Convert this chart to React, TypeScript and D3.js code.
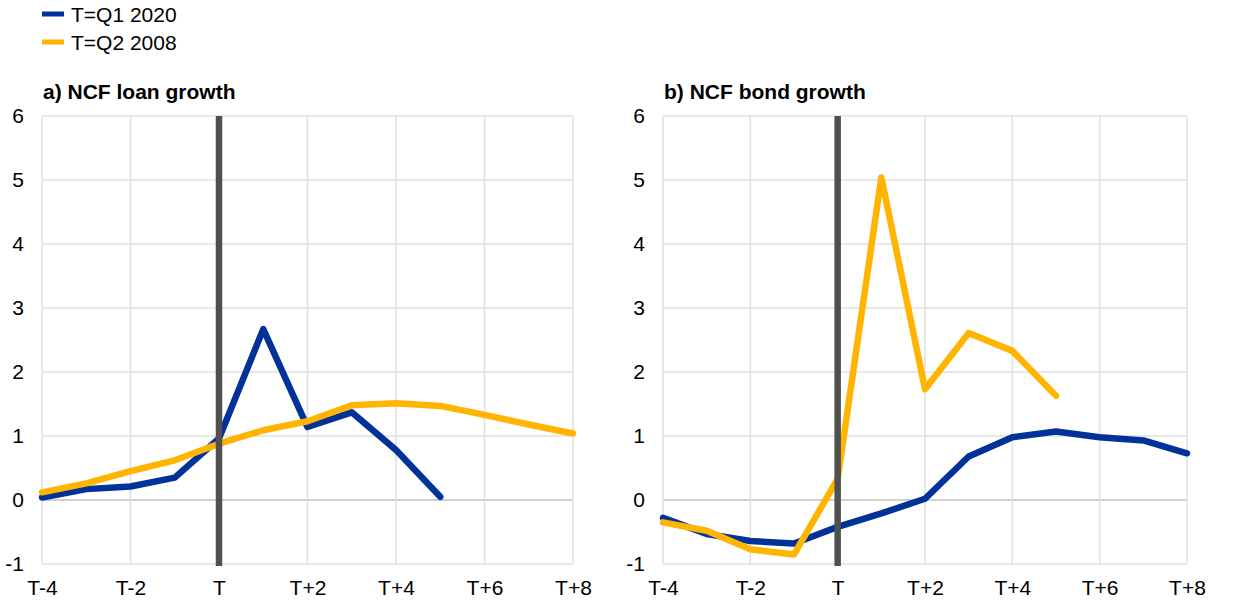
import { useEffect, useRef } from 'react'
import * as d3 from 'd3'

// quarters relative to T
const quarters = [-4, -3, -2, -1, 0, 1, 2, 3, 4, 5, 6, 7, 8]
const xTickValues = [-4, -2, 0, 2, 4, 6, 8]
const yTickValues = [-1, 0, 1, 2, 3, 4, 5, 6]

const seriesLabels = ['T=Q1 2020', 'T=Q2 2008']
const seriesColors = ['#003299', '#ffb400']

// a) NCF loan growth
const loanQ12020 = [0.04, 0.17, 0.21, 0.35, 0.96, 2.67, 1.14, 1.37, 0.78, 0.05, null, null, null]
const loanQ22008 = [0.12, 0.26, 0.45, 0.62, 0.88, 1.09, 1.23, 1.48, 1.51, 1.47, 1.33, 1.18, 1.04]

// b) NCF bond growth
const bondQ12020 = [-0.28, -0.53, -0.64, -0.68, -0.42, -0.21, 0.02, 0.68, 0.98, 1.07, 0.98, 0.93, 0.73]
const bondQ22008 = [-0.35, -0.48, -0.77, -0.85, 0.33, 5.04, 1.73, 2.61, 2.33, 1.63, null, null, null]

const panelTitles = ['a) NCF loan growth', 'b) NCF bond growth']

const tickLabel = (q: number) => (q === 0 ? 'T' : q > 0 ? `T+${q}` : `T${q}`)

const FONT = 'Arial, "Liberation Sans", sans-serif'
const FS = 21

export default function App() {
  const svgRef = useRef<SVGSVGElement>(null)

  useEffect(() => {
    document.body.style.margin = '0'
    if (!svgRef.current) return
    const svg = d3.select(svgRef.current)
    svg.selectAll('*').remove()

    // legend
    seriesLabels.forEach((label, i) => {
      const y = 14 + i * 28
      svg.append('line')
        .attr('x1', 42).attr('x2', 64)
        .attr('y1', y).attr('y2', y)
        .attr('stroke', seriesColors[i])
        .attr('stroke-width', 5)
      svg.append('text')
        .attr('x', 71).attr('y', y + 8)
        .attr('font-family', FONT)
        .attr('font-size', FS)
        .attr('fill', '#000')
        .text(label)
    })

    const panels = [
      { left: 42, right: 573, title: panelTitles[0], data: [loanQ12020, loanQ22008] },
      { left: 663, right: 1187, title: panelTitles[1], data: [bondQ12020, bondQ22008] },
    ]
    const top = 116
    const bottom = 564

    panels.forEach(p => {
      const x = d3.scaleLinear().domain([-4, 8]).range([p.left, p.right])
      const y = d3.scaleLinear().domain([-1, 6]).range([bottom, top])
      const g = svg.append('g')

      // title
      g.append('text')
        .attr('x', p.left + 1).attr('y', 99)
        .attr('font-family', FONT)
        .attr('font-size', FS)
        .attr('font-weight', 'bold')
        .text(p.title)

      // gridlines
      g.selectAll('.hgrid')
        .data(yTickValues)
        .join('line')
        .attr('x1', p.left).attr('x2', p.right)
        .attr('y1', d => y(d)).attr('y2', d => y(d))
        .attr('stroke', d => (d === 0 ? '#d0d0d0' : '#e0e0e0'))
        .attr('stroke-width', d => (d === 0 ? 2 : 1.5))

      g.selectAll('.vgrid')
        .data(xTickValues)
        .join('line')
        .attr('x1', d => x(d)).attr('x2', d => x(d))
        .attr('y1', top).attr('y2', bottom)
        .attr('stroke', '#e0e0e0')
        .attr('stroke-width', 1.5)

      // y axis labels
      const yAxis = d3.axisLeft(y).tickValues(yTickValues).tickSize(0).tickPadding(18)
        .tickFormat(d => String(d))
      const ya = g.append('g').attr('transform', `translate(${p.left},0)`).call(yAxis)
      ya.select('.domain').remove()
      ya.selectAll('text')
        .attr('font-family', FONT)
        .attr('font-size', FS)
        .attr('fill', '#000')

      // x axis labels
      const xAxis = d3.axisBottom(x).tickValues(xTickValues).tickSize(0).tickPadding(16)
        .tickFormat(d => tickLabel(d as number))
      const xa = g.append('g').attr('transform', `translate(0,${bottom})`).call(xAxis)
      xa.select('.domain').remove()
      xa.selectAll('text')
        .attr('font-family', FONT)
        .attr('font-size', FS)
        .attr('fill', '#000')

      // series
      const line = d3.line<number | null>()
        .defined(d => d !== null)
        .x((_, i) => x(quarters[i]))
        .y(d => y(d as number))

      p.data.forEach((vals, i) => {
        g.append('path')
          .datum(vals)
          .attr('fill', 'none')
          .attr('stroke', seriesColors[i])
          .attr('stroke-width', 6.5)
          .attr('stroke-linejoin', 'round')
          .attr('stroke-linecap', 'round')
          .attr('d', line)
      })

      // T marker
      g.append('line')
        .attr('x1', x(0)).attr('x2', x(0))
        .attr('y1', top).attr('y2', bottom + 2)
        .attr('stroke', '#505050')
        .attr('stroke-width', 6.5)
    })
  }, [])

  return <svg ref={svgRef} width={1240} height={608} style={{ display: 'block', background: '#fff' }} />
}
